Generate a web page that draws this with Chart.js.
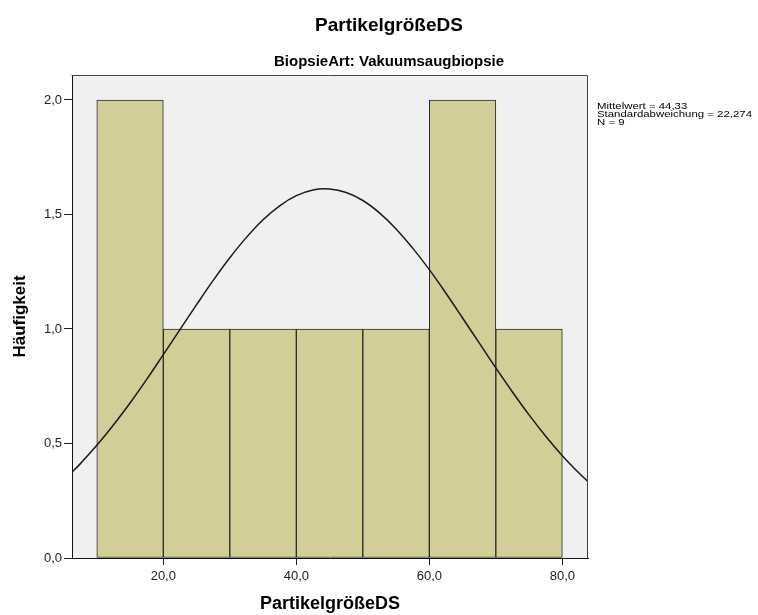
<!DOCTYPE html>
<html>
<head>
<meta charset="utf-8">
<script src="https://cdn.jsdelivr.net/npm/chart.js@4/dist/chart.umd.min.js"></script>
<style>
  html, body { margin: 0; padding: 0; background: #ffffff; }
  #wrap { width: 758px; height: 615px; position: relative; }
</style>
</head>
<body>
<div id="wrap"><canvas id="c" width="758" height="615"></canvas></div>
<script>
// ---- data ----
const chartTitle = 'PartikelgrößeDS';
const chartSubtitle = 'BiopsieArt: Vakuumsaugbiopsie';
const xAxisTitle = 'PartikelgrößeDS';
const yAxisTitle = 'Häufigkeit';

const binCenters = [15, 25, 35, 45, 55, 65, 75];
const frequencies = [2, 1, 1, 1, 1, 2, 1];

// normal curve
const curveX = [6, 7.5, 10, 12.5, 15, 17.5, 20, 22.5, 25, 27.5, 30, 32.5, 35, 37.5, 40, 42.5, 45, 47.5, 50, 52.5, 55, 57.5, 60, 62.5, 65, 67.5, 70, 72.5, 75, 77.5, 80, 82.5, 84];
const curveY = [0.367, 0.411, 0.492, 0.581, 0.677, 0.780, 0.888, 0.997, 1.106, 1.212, 1.311, 1.400, 1.477, 1.538, 1.582, 1.607, 1.611, 1.596, 1.561, 1.507, 1.437, 1.353, 1.259, 1.156, 1.048, 0.939, 0.830, 0.725, 0.625, 0.532, 0.447, 0.371, 0.330];

const xTickValues = [20, 40, 60, 80];
const xTickLabels = ['20,0', '40,0', '60,0', '80,0'];
const yTickValues = [0, 0.5, 1, 1.5, 2];
const yTickLabels = ['0,0', '0,5', '1,0', '1,5', '2,0'];

const statsLines = ['Mittelwert = 44,33', 'Standardabweichung = 22,274', 'N = 9'];

const xMin = 6.27, xMax = 83.86;
const yMin = 0, yMax = 2.109;

// ---- styling ----
const FONT = "'Liberation Sans', Arial, sans-serif";

const plotBackground = {
  id: 'plotBackground',
  beforeDraw(chart) {
    const {ctx, chartArea: a} = chart;
    ctx.save();
    ctx.fillStyle = '#f0f0f0';
    ctx.fillRect(a.left, a.top, a.right - a.left, a.bottom - a.top);
    ctx.restore();
  },
  afterDraw(chart) {
    const {ctx, chartArea: a} = chart;
    ctx.save();
    ctx.strokeStyle = '#444444';
    ctx.lineWidth = 1;
    ctx.beginPath();
    ctx.moveTo(Math.round(a.left) - 0.5, Math.round(a.top) + 0.5);
    ctx.lineTo(Math.round(a.right) - 0.5, Math.round(a.top) + 0.5);
    ctx.lineTo(Math.round(a.right) - 0.5, Math.round(a.bottom));
    ctx.stroke();
    ctx.restore();
    // statistics text (slightly widened glyphs, tight leading)
    ctx.save();
    ctx.fillStyle = '#000000';
    ctx.font = '9.5px ' + FONT;
    ctx.textAlign = 'left';
    ctx.textBaseline = 'alphabetic';
    const x0 = a.right + 9;
    ctx.translate(x0, 0);
    ctx.scale(1.2, 1);
    statsLines.forEach((s, i) => ctx.fillText(s, 0, 108.5 + i * 8.3));
    ctx.restore();
  }
};

const tickCb = (values, labels) => function (value) {
  const i = values.indexOf(value);
  return i >= 0 ? labels[i] : '';
};

new Chart(document.getElementById('c'), {
  type: 'bar',
  data: {
    datasets: [
      {
        type: 'line',
        label: 'Normal',
        data: curveX.map((x, i) => ({x: x, y: curveY[i]})),
        borderColor: '#1a1a1a',
        borderWidth: 1.5,
        pointRadius: 0,
        tension: 0.4,
        fill: false,
        clip: 0,
        order: 1
      },
      {
        type: 'bar',
        label: 'Häufigkeit',
        data: binCenters.map((x, i) => ({x: x, y: frequencies[i]})),
        backgroundColor: '#d3ce97',
        borderColor: '#2a2a2a',
        borderWidth: 1,
        borderSkipped: false,
        barPercentage: 1,
        categoryPercentage: 1,
        order: 2
      }
    ]
  },
  options: {
    responsive: false,
    animation: false,
    devicePixelRatio: 1,
    layout: { padding: { left: 20, right: 0, top: 0, bottom: 0 } },
    plugins: {
      legend: { display: false },
      tooltip: { enabled: false },
      title: {
        display: true,
        text: chartTitle,
        color: '#000000',
        font: { family: FONT, size: 19, weight: 'bold' },
        padding: { top: 14, bottom: 16 }
      },
      subtitle: {
        display: true,
        text: chartSubtitle,
        color: '#000000',
        font: { family: FONT, size: 15, weight: 'bold' },
        padding: { top: 0, bottom: 4.2 }
      }
    },
    scales: {
      x: {
        type: 'linear',
        position: 'bottom',
        offset: false,
        min: xMin,
        max: xMax,
        afterBuildTicks(scale) { scale.ticks = xTickValues.map(v => ({value: v})); },
        afterFit(scale) { scale.height = 57; },
        ticks: {
          callback: tickCb(xTickValues, xTickLabels),
          color: '#222222',
          font: { family: FONT, size: 13 },
          padding: 4,
          maxRotation: 0,
          autoSkip: false
        },
        grid: { offset: false, drawOnChartArea: false, drawTicks: true, tickLength: 7, color: '#222222' },
        border: { display: true, color: '#111111', width: 1 },
        title: {
          display: true,
          text: xAxisTitle,
          color: '#000000',
          font: { family: FONT, size: 18, weight: 'bold' },
          padding: { top: 0, bottom: 0 }
        }
      },
      y: {
        type: 'linear',
        position: 'left',
        min: yMin,
        max: yMax,
        afterBuildTicks(scale) { scale.ticks = yTickValues.map(v => ({value: v})); },
        afterFit(scale) { scale.width = 52; },
        ticks: {
          callback: tickCb(yTickValues, yTickLabels),
          color: '#222222',
          font: { family: FONT, size: 13 },
          padding: 2,
          autoSkip: false
        },
        grid: { drawOnChartArea: false, drawTicks: true, tickLength: 8, color: '#222222' },
        border: { display: true, color: '#111111', width: 1 },
        title: {
          display: true,
          text: yAxisTitle,
          color: '#000000',
          font: { family: FONT, size: 17, weight: 'bold' },
          padding: { top: -9.4, bottom: 0 }
        }
      },
      yRight: {
        type: 'linear',
        position: 'right',
        min: yMin,
        max: yMax,
        display: true,
        afterFit(scale) { scale.width = 170; },
        ticks: { display: false },
        grid: { display: false },
        border: { display: false }
      }
    }
  },
  plugins: [plotBackground]
});
</script>
</body>
</html>
